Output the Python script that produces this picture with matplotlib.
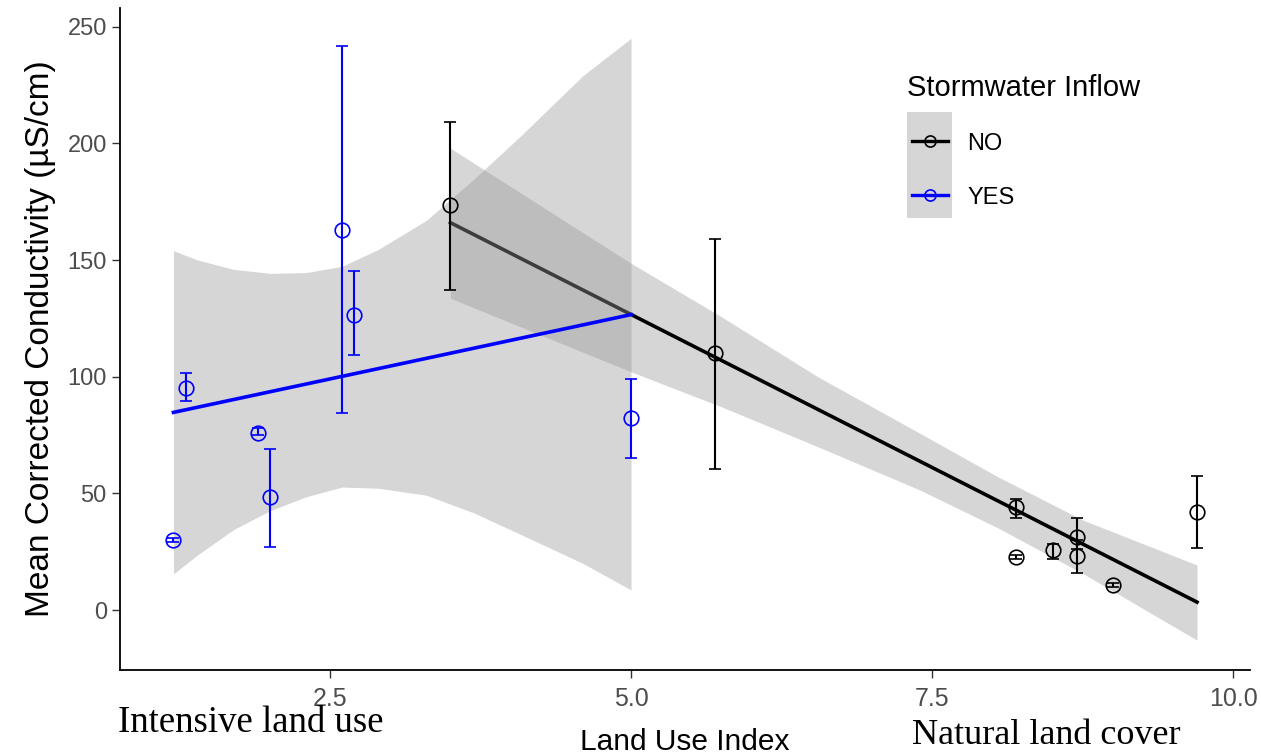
import matplotlib.pyplot as plt
from matplotlib.lines import Line2D
from matplotlib.patches import Rectangle

# Site means (Land Use Index vs corrected conductivity, uS/cm)
yes_x = [1.2, 1.3, 1.9, 2.0, 2.6, 2.7, 5.0]
yes_y = [30, 95, 76, 48.5, 163, 126.6, 82.4]
yes_lo = [29, 89.5, 75, 27, 84.5, 109.4, 65]
yes_hi = [31, 101.7, 78, 69, 241.6, 145.5, 99]

no_x = [3.5, 5.7, 8.2, 8.2, 8.5, 8.7, 8.7, 9.0, 9.7]
no_y = [173.4, 110, 44, 22.7, 25.8, 31.3, 23, 10.7, 41.8]
no_lo = [137.3, 60.5, 39.6, 21.7, 21.8, 26, 16, 9.7, 26.7]
no_hi = [209, 159, 47.5, 23.7, 28.2, 39.6, 30, 11.7, 57.6]

# Linear fits and 95% confidence bands
yes_fit_x = [1.2, 5.0]
yes_fit_y = [84.7, 126.6]
yes_band_x = [1.2, 1.4, 1.7, 2.0, 2.3, 2.6, 2.9, 3.3, 3.7, 4.1, 4.6, 5.0]
yes_band_lo = [15.5, 23.6, 34.5, 42.5, 48.5, 52.7, 52.2, 49.2, 41.5, 32, 20, 8.6]
yes_band_hi = [154, 150, 146, 144.3, 144.6, 147.3, 154.5, 167, 184.9, 204, 229, 245]

no_fit_x = [3.5, 9.7]
no_fit_y = [166, 3.4]
no_band_x = [3.5, 5.0, 5.75, 6.55, 7.4, 8.05, 8.75, 9.7]
no_band_lo = [133.6, 102.1, 87.1, 70.0, 51.4, 35.1, 15.7, -12.9]
no_band_hi = [197.9, 148.6, 125.7, 100.0, 75.7, 57.0, 38.6, 19.3]

x_ticks = [2.5, 5.0, 7.5, 10.0]
y_ticks = [0, 50, 100, 150, 200, 250]

groups = ['NO', 'YES']
colors = {'NO': 'black', 'YES': '#0000FF'}

W, H = 1261, 756
fig = plt.figure(figsize=(W / 100, H / 100), dpi=100)
ax = fig.add_axes([120 / W, 1 - 670 / H, 1130 / W, 662 / H])

band_col = '#999999'

# NO group first: ribbon then line
ax.fill_between(no_band_x, no_band_lo, no_band_hi, color=band_col, alpha=0.4, lw=0, zorder=1)
ax.plot(no_fit_x, no_fit_y, color=colors['NO'], lw=2.6, zorder=2)
# YES group on top
ax.fill_between(yes_band_x, yes_band_lo, yes_band_hi, color=band_col, alpha=0.4, lw=0, zorder=3)
ax.plot(yes_fit_x, yes_fit_y, color=colors['YES'], lw=2.6, zorder=4)

for xs, ys, lo, hi, col in [(no_x, no_y, no_lo, no_hi, colors['NO']),
                            (yes_x, yes_y, yes_lo, yes_hi, colors['YES'])]:
    err = [[y - l for y, l in zip(ys, lo)], [h - y for y, h in zip(ys, hi)]]
    ax.errorbar(xs, ys, yerr=err, fmt='o', color=col, mfc='none', mec=col,
                ms=10.5, mew=1.2, elinewidth=1.5, capsize=4.3, capthick=1.5, zorder=5)

ax.set_xlim(0.756, 10.14)
ax.set_ylim(-25.7, 258)
ax.set_xticks(x_ticks)
ax.set_xticklabels(['2.5', '5.0', '7.5', '10.0'])
ax.set_yticks(y_ticks)

for s in ['top', 'right']:
    ax.spines[s].set_visible(False)
for s in ['left', 'bottom']:
    ax.spines[s].set_linewidth(1.3)
    ax.spines[s].set_color('black')

ax.tick_params(axis='both', length=5.5, width=1.0, color='#333333', labelcolor='#4D4D4D')
ax.tick_params(axis='y', labelsize=17, pad=4)
ax.tick_params(axis='x', labelsize=18, pad=7)
for lab in ax.get_yticklabels() + ax.get_xticklabels():
    lab.set_fontfamily('Liberation Sans')

ax.set_ylabel('Mean Corrected Conductivity (µS/cm)', fontsize=24,
              family='Liberation Sans', color='black')
ax.yaxis.set_label_coords(-0.057, 0.5)
ax.set_xlabel('Land Use Index', fontsize=21.5, family='Liberation Sans', color='black')
ax.xaxis.set_label_coords(0.5, -0.087)

# legend drawn by hand (ggplot style: grey key background, line + open circle)
fig.text(907 / W, 1 - 96 / H, 'Stormwater Inflow', fontsize=21,
         family='Liberation Sans', va='baseline', ha='left')
fig.add_artist(Rectangle((907 / W, 1 - 218 / H), 45 / W, 106 / H,
                         transform=fig.transFigure, facecolor='#D6D6D6', edgecolor='none'))
for i, g in enumerate(groups):
    yk = 141 + 54 * i
    fig.add_artist(Line2D([912 / W, 948 / W], [1 - yk / H, 1 - yk / H],
                          transform=fig.transFigure, color=colors[g], lw=2.4))
    fig.add_artist(Line2D([930 / W], [1 - yk / H], transform=fig.transFigure,
                          marker='o', ms=8, mfc='none', mec=colors[g], mew=1.2, ls='none'))
    fig.text(967 / W, 1 - (yk + 8.5) / H, g, fontsize=17,
             family='Liberation Sans', va='baseline', ha='left')

fig.text(118 / W, 1 - 732 / H, 'Intensive land use', fontsize=26.5,
         family='Liberation Serif', va='baseline', ha='left')
fig.text(912 / W, 1 - 744 / H, 'Natural land cover', fontsize=26,
         family='Liberation Serif', va='baseline', ha='left')

fig.savefig('out.png', dpi=100)
